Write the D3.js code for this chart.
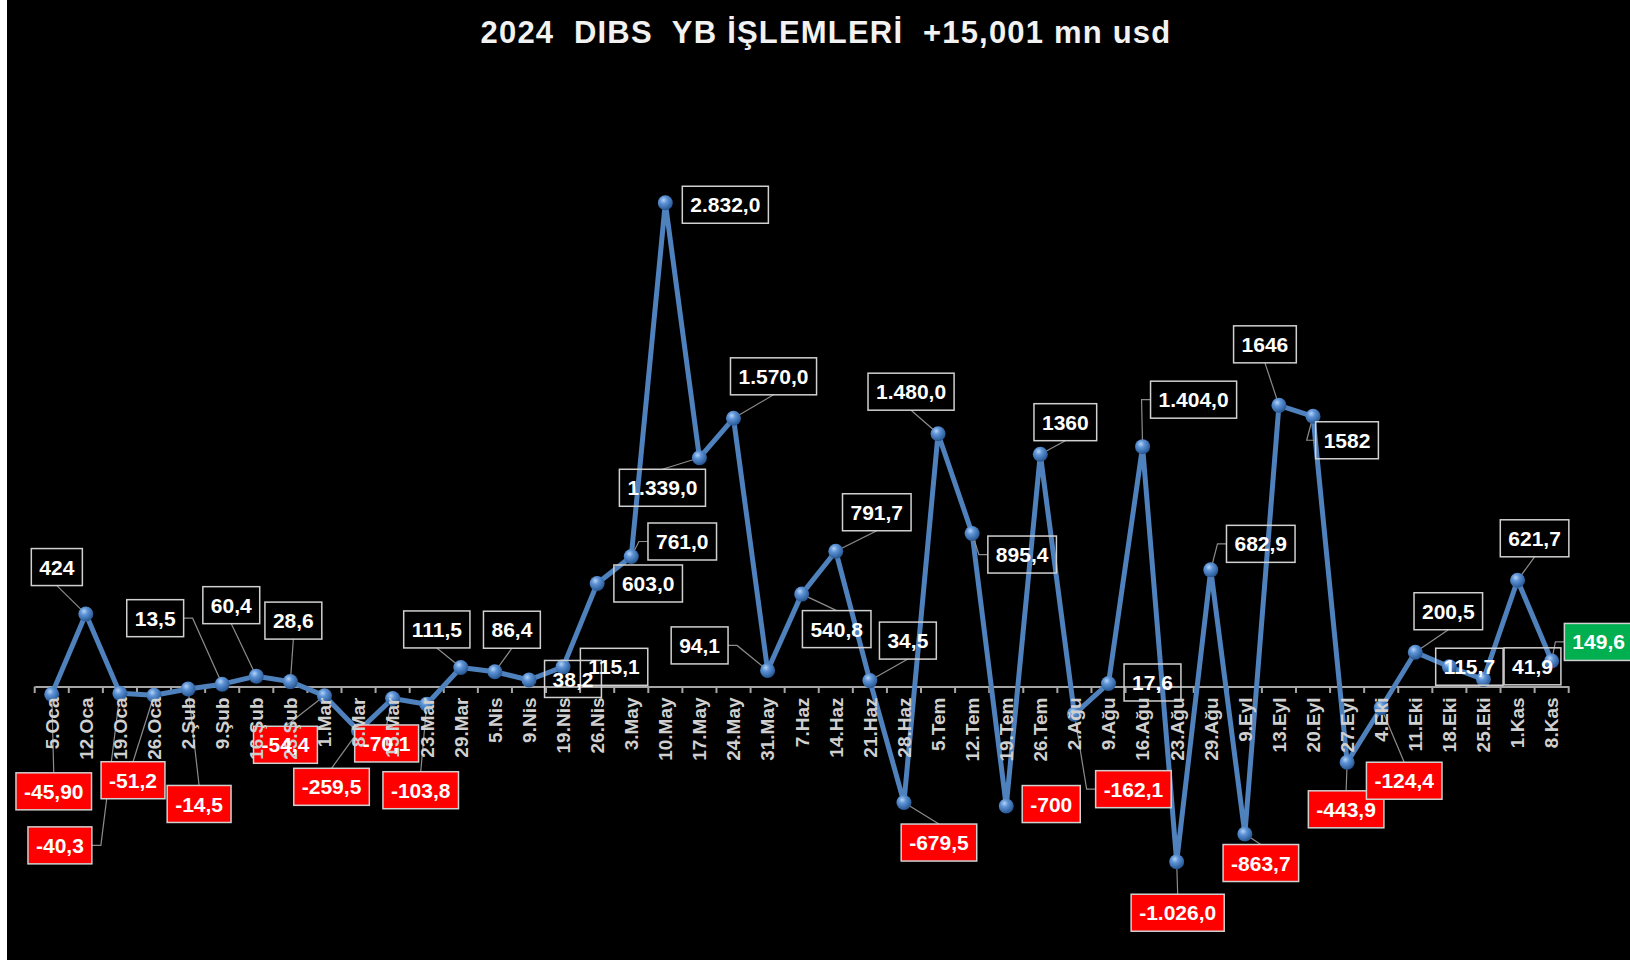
<!DOCTYPE html>
<html>
<head>
<meta charset="utf-8">
<script src="https://cdn.jsdelivr.net/npm/d3@7"></script>
<style>
  html, body { margin: 0; padding: 0; background: #ffffff; }
  svg { display: block; }
</style>
</head>
<body>
<svg id="chart" width="1630" height="960"></svg>
<script>
// ---------------- DATA ----------------
const titleText = "2024  DIBS  YB İŞLEMLERİ  +15,001 mn usd";

const categories = ["5.Oca","12.Oca","19.Oca","26.Oca","2.Şub","9.Şub","16.Şub","23.Şub","1.Mar","8.Mar",
  "15.Mar","23.Mar","29.Mar","5.Nis","9.Nis","19.Nis","26.Nis","3.May","10.May","17.May",
  "24.May","31.May","7.Haz","14.Haz","21.Haz","28.Haz","5.Tem","12.Tem","19.Tem","26.Tem",
  "2.Ağu","9.Ağu","16.Ağu","23.Ağu","29.Ağu","9.Eyl","13.Eyl","20.Eyl","27.Eyl","4.Eki",
  "11.Eki","18.Eki","25.Eki","1.Kas","8.Kas"];

const values = [-45.9, 424, -40.3, -51.2, -14.5, 13.5, 60.4, 28.6, -54.4, -259.5,
  -70.1, -103.8, 111.5, 86.4, 38.2, 115.1, 603.0, 761.0, 2832.0, 1339.0,
  1570.0, 94.1, 540.8, 791.7, 34.5, -679.5, 1480.0, 895.4, -700, 1360,
  -162.1, 17.6, 1404.0, -1026.0, 682.9, -863.7, 1646, 1582, -443.9, -124.4,
  200.5, 115.7, 41.9, 621.7, 149.6];

const valueLabels = ["-45,90","424","-40,3","-51,2","-14,5","13,5","60,4","28,6","-54,4","-259,5",
  "-70,1","-103,8","111,5","86,4","38,2","115,1","603,0","761,0","2.832,0","1.339,0",
  "1.570,0","94,1","540,8","791,7","34,5","-679,5","1.480,0","895,4","-700","1360",
  "-162,1","17,6","1.404,0","-1.026,0","682,9","-863,7","1646","1582","-443,9","-124,4",
  "200,5","115,7","41,9","621,7","149,6"];

// ---------------- LAYOUT (label offsets from point, leader anchor side) ----------------
const labelLayout = [
  [2,97,'t'],[-29,-47,'b'],[-60,152,'r'],[-21,85,'t'],[11,115,'t'],[-67,-66,'r'],[-25,-71,'b'],[3,-61,'b'],[-39,49,'t'],[-27,56,'t'],
  [-6,45,'t'],[-6,86,'t'],[-24,-38,'b'],[17,-42,'b'],[44,-1,'n'],[51,0,'n'],[51,0,'n'],[51,-15,'l'],[60,2,'n'],[-37,30,'t'],
  [40,-42,'b'],[-68,-25,'r'],[35,35,'t'],[41,-39,'b'],[38,-40,'b'],[35,40,'t'],[-27,-42,'b'],[50,21,'l'],[45,-2,'n'],[25,-32,'b'],
  [59,75,'l'],[44,-1,'n'],[51,-47,'l'],[1,51,'t'],[50,-26,'l'],[16,29,'t'],[-14,-61,'b'],[34,24,'l'],[-1,47,'t'],[23,73,'t'],
  [33,-41,'b'],[20,0,'n'],[49,-13,'n'],[17,-42,'b'],[47,-19,'l']
];

// ---------------- CHART ----------------
const svg = d3.select("#chart");
const W = 1630, H = 960;

svg.append("rect").attr("x", 7).attr("y", 0).attr("width", W - 7).attr("height", H).attr("fill", "#000");

const defs = svg.append("defs");
const grad = defs.append("radialGradient").attr("id", "ball").attr("cx", "38%").attr("cy", "32%").attr("r", "70%");
grad.append("stop").attr("offset", "0%").attr("stop-color", "#b5d3f5");
grad.append("stop").attr("offset", "35%").attr("stop-color", "#5d93d6");
grad.append("stop").attr("offset", "100%").attr("stop-color", "#24548f");

const x = d3.scaleBand().domain(categories).range([34.7, 1568.7]).padding(0);
const cx = d => x(d) + x.bandwidth() / 2;
const y = d3.scaleLinear().domain([-1500, 3200]).range([942.7, 139.9]);

const data = categories.map((c, i) => ({ c, v: values[i], label: valueLabels[i], lay: labelLayout[i], i }));

// title
svg.append("text")
  .attr("x", 826).attr("y", 43)
  .attr("text-anchor", "middle")
  .attr("fill", "#f2f2f2")
  .attr("font-family", "Liberation Sans, Arial, sans-serif")
  .attr("font-weight", "bold")
  .attr("font-size", 31)
  .attr("letter-spacing", 1.2)
  .style("white-space", "pre")
  .text(titleText);

// axis line with boundary ticks
const y0 = y(0);
const gAxis = svg.append("g").attr("transform", `translate(0,${y0})`);
const axisLine = d3.axisBottom(x).tickValues([]).tickSizeOuter(0);
gAxis.call(axisLine);
gAxis.select(".domain").attr("stroke", "#a6a6a6").attr("stroke-width", 2.2);
const bounds = d3.range(categories.length + 1).map(k => x.range()[0] + k * x.step());
gAxis.selectAll("line.bt").data(bounds).enter().append("line")
  .attr("class", "bt")
  .attr("x1", d => d).attr("x2", d => d)
  .attr("y1", 0).attr("y2", 6.5)
  .attr("stroke", "#a6a6a6").attr("stroke-width", 2);

// series line
const line = d3.line().x(d => cx(d.c)).y(d => y(d.v));
svg.append("path").datum(data)
  .attr("d", line)
  .attr("fill", "none")
  .attr("stroke", "#4f81bd")
  .attr("stroke-width", 5)
  .attr("stroke-linejoin", "round");

// label geometry
const FS = 21;
const measure = svg.append("text").attr("font-family", "Liberation Sans, Arial, sans-serif")
  .attr("font-weight", "bold").attr("font-size", FS).attr("opacity", 0);
data.forEach(d => {
  measure.text(d.label);
  const tw = measure.node().getComputedTextLength();
  d.px = cx(d.c); d.py = y(d.v);
  d.bw = tw + 16; d.bh = 37;
  d.bx = d.px + d.lay[0]; d.by = d.py + d.lay[1];
});
measure.remove();

// leaders
const gLead = svg.append("g");
data.forEach(d => {
  const a = d.lay[2];
  if (a === 'n') return;
  let pts;
  const L = d.bx - d.bw / 2, R = d.bx + d.bw / 2, T = d.by - d.bh / 2, B = d.by + d.bh / 2;
  if (a === 't') pts = [[d.bx, T], [d.px, d.py]];
  else if (a === 'b') pts = [[d.bx, B], [d.px, d.py]];
  else if (a === 'l') pts = [[L, d.by], [L - 9, d.by], [d.px, d.py]];
  else pts = [[R, d.by], [R + 9, d.by], [d.px, d.py]];
  gLead.append("path").attr("d", d3.line()(pts))
    .attr("fill", "none").attr("stroke", "#8c8c8c").attr("stroke-width", 1.2);
});

// points
svg.append("g").selectAll("circle").data(data).enter().append("circle")
  .attr("cx", d => cx(d.c)).attr("cy", d => y(d.v)).attr("r", 7.5)
  .attr("fill", "url(#ball)");

// label boxes
const last = data.length - 1;
const boxFill = d => d.i === last ? "#00b050" : (d.v < 0 ? "#ff0000" : "none");
svg.append("g").selectAll("rect").data(data).enter().append("rect")
  .attr("x", d => d.bx - d.bw / 2).attr("y", d => d.by - d.bh / 2)
  .attr("width", d => d.bw).attr("height", d => d.bh)
  .attr("fill", boxFill)
  .attr("stroke", "#d0d0d0").attr("stroke-width", 1.5);

// category labels (on top of boxes)
const gLab = svg.append("g").attr("transform", `translate(0,${y0})`);
gLab.call(d3.axisBottom(x).tickSize(0).tickPadding(0));
gLab.select(".domain").remove();
gLab.selectAll(".tick text")
  .attr("font-family", "Liberation Sans, Arial, sans-serif")
  .attr("font-weight", "bold")
  .attr("font-size", 19)
  .attr("fill", "#d0d0d0")
  .attr("text-anchor", "end")
  .attr("transform", "rotate(-90)")
  .attr("x", -11).attr("y", 0).attr("dy", "0.36em");

// label texts
svg.append("g").selectAll("text").data(data).enter().append("text")
  .attr("x", d => d.bx).attr("y", d => d.by).attr("dy", "0.36em")
  .attr("text-anchor", "middle")
  .attr("font-family", "Liberation Sans, Arial, sans-serif")
  .attr("font-weight", "bold").attr("font-size", FS)
  .attr("fill", "#ffffff")
  .text(d => d.label);
</script>
</body>
</html>
